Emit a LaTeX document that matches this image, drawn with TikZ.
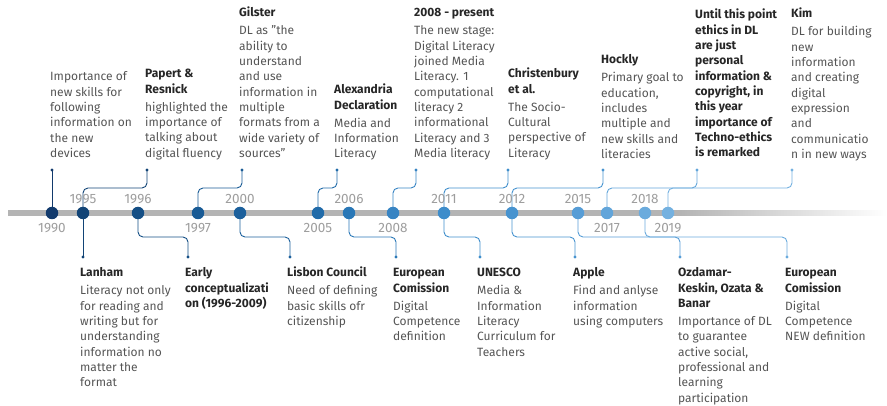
\documentclass[tikz,border=0pt]{standalone}
\usepackage{fontspec}
\setmainfont{Fira Sans}
\definecolor{c1990}{HTML}{123A6C}
\definecolor{c1995}{HTML}{124476}
\definecolor{c1996}{HTML}{154F85}
\definecolor{c1997}{HTML}{195B95}
\definecolor{c2000}{HTML}{1C609C}
\definecolor{c2005}{HTML}{216BA9}
\definecolor{c2006}{HTML}{2A78B7}
\definecolor{c2008}{HTML}{3784C3}
\definecolor{c2011}{HTML}{3E8DCB}
\definecolor{c2012}{HTML}{4793CF}
\definecolor{c2015}{HTML}{579DD6}
\definecolor{c2017}{HTML}{62A5DA}
\definecolor{c2018}{HTML}{6BABDD}
\definecolor{c2019}{HTML}{74B1E0}
\definecolor{bargray}{HTML}{B4B4B4}
\definecolor{yeargray}{HTML}{9E9E9E}
\definecolor{bodygray}{HTML}{555555}
\definecolor{headgray}{HTML}{262626}
\newcommand{\hd}[1]{\textcolor{headgray}{\textbf{#1}}}
\begin{document}
\begin{tikzpicture}[x=1pt,y=-1pt,
  dot/.style={circle,inner sep=0pt,minimum size=12.5pt},
  pinmark/.style={circle,fill,inner sep=0pt,minimum size=3.2pt},
  conn/.style={line width=0.9pt,rounded corners=5pt},
  yr/.style={font=\fontsize{13.5}{13.5}\selectfont,text=yeargray,inner sep=0pt},
  txt/.style={font=\fontsize{12}{15.3}\selectfont,text=bodygray,align=left,anchor=north west,inner sep=0pt},
]
\useasboundingbox (0,0) rectangle (887,406);
% bar
\fill[bargray] (8,210.4) rectangle (680,215.6);
\shade[left color=bargray,right color=white] (680,210.4) rectangle (887,215.6);
\coordinate (up) at (0,188);
\coordinate (dn) at (0,237);
% pins
\node[pinmark,c1990] (pA) at (52,170) {};
\node[pinmark,c1995] (pB) at (147,170) {};
\node[pinmark,c1997] (pC) at (242,170) {};
\node[pinmark,c2005] (pD) at (337,170) {};
\node[pinmark,c2008] (pE) at (416,170) {};
\node[pinmark,c2011] (pF) at (508,170) {};
\node[pinmark,c2012] (pG) at (603,170) {};
\node[pinmark,c2017] (pH) at (697,170) {};
\node[pinmark,c2019] (pI) at (792,170) {};
\node[pinmark,c1995] (qA) at (83,257) {};
\node[pinmark,c1996] (qB) at (188,257) {};
\node[pinmark,c2000] (qC) at (290,257) {};
\node[pinmark,c2006] (qD) at (396,257) {};
\node[pinmark,c2011] (qE) at (480,257) {};
\node[pinmark,c2012] (qF) at (575,257) {};
\node[pinmark,c2015] (qG) at (680,257) {};
\node[pinmark,c2018] (qH) at (787,257) {};
% dot coordinates
\coordinate (x1990) at (52,213);
\coordinate (x1995) at (83,213);
\coordinate (x1996) at (138,213);
\coordinate (x1997) at (198,213);
\coordinate (x2000) at (240,213);
\coordinate (x2005) at (318,213);
\coordinate (x2006) at (349,213);
\coordinate (x2008) at (393,213);
\coordinate (x2011) at (444,213);
\coordinate (x2012) at (512,213);
\coordinate (x2015) at (578,213);
\coordinate (x2017) at (607,213);
\coordinate (x2018) at (645,213);
\coordinate (x2019) at (668,213);
% connectors
\draw[conn,c1990] (x1990) -- (pA.center);
\draw[conn,c1995] (x1995) -- (x1995 |- up) -| (pB.center);
\draw[conn,c1995] (x1995) -- (qA.center);
\draw[conn,c1996] (x1996) -- (x1996 |- dn) -| (qB.center);
\draw[conn,c1997] (x1997) -- (x1997 |- up) -| (pC.center);
\draw[conn,c2000] (x2000) -- (x2000 |- dn) -| (qC.center);
\draw[conn,c2005] (x2005) -- (x2005 |- up) -| (pD.center);
\draw[conn,c2006] (x2006) -- (x2006 |- dn) -| (qD.center);
\draw[conn,c2008] (x2008) -- (x2008 |- up) -| (pE.center);
\draw[conn,c2011] (x2011) -- (x2011 |- dn) -| (qE.center);
\draw[conn,c2011] (x2011) -- (x2011 |- up) -| (pF.center);
\draw[conn,c2012] (x2012) -- (x2012 |- up) -| (pG.center);
\draw[conn,c2012] (x2012) -- (x2012 |- dn) -| (qF.center);
\draw[conn,c2015] (x2015) -- (x2015 |- dn) -| (qG.center);
\draw[conn,c2017] (x2017) -- (x2017 |- up) -| (pH.center);
\draw[conn,c2018] (x2018) -- (x2018 |- dn) -| (qH.center);
\draw[conn,c2019] (x2019) -- (x2019 |- up) -| (pI.center);
% dots
\foreach \y in {1990,1995,1996,1997,2000,2005,2006,2008,2011,2012,2015,2017,2018,2019}
  \node[dot,fill=c\y] (d\y) at (x\y) {};
% year labels
\node[yr] (y1990) at (52,228) {1990};
\node[yr] (y1995) at (83,199) {1995};
\node[yr] (y1996) at (138,199) {1996};
\node[yr] (y1997) at (198,228) {1997};
\node[yr] (y2000) at (240,199) {2000};
\node[yr] (y2005) at (318,228) {2005};
\node[yr] (y2006) at (349,199) {2006};
\node[yr] (y2008) at (393,228) {2008};
\node[yr] (y2011) at (444,199) {2011};
\node[yr] (y2012) at (512,199) {2012};
\node[yr] (y2015) at (578,199) {2015};
\node[yr] (y2017) at (607,228) {2017};
\node[yr] (y2018) at (645,199) {2018};
\node[yr] (y2019) at (668,228) {2019};
% upper texts
\node[txt] (tA) at (50,70) {\strut Importance of\\new skills for\\following\\information on\\the new\\devices};
\node[txt] (tB) at (145,67) {\strut\hd{Papert \&}\\\hd{Resnick}\\[2.7pt]highlighted the\\importance of\\talking about\\digital fluency};
\node[txt] (tC) at (239,6) {\strut\hd{Gilster}\\[2.7pt]DL as "the\\ability to\\understand\\and use\\information in\\multiple\\formats from a\\wide variety of\\sources"};
\node[txt] (tD) at (334,83) {\strut\hd{Alexandria}\\\hd{Declaration}\\[2.7pt]Media and\\Information\\Literacy};
\node[txt] (tE) at (414,6) {\strut\hd{2008 - present}\\[2.7pt]The new stage:\\Digital Literacy\\joined Media\\Literacy. 1\\computational\\literacy 2\\informational\\Literacy and 3\\Media literacy};
\node[txt] (tF) at (508,67) {\strut\hd{Christenbury}\\\hd{et al.}\\[2.7pt]The Socio-\\Cultural\\perspective of\\Literacy};
\node[txt] (tG) at (601,53) {\strut\hd{Hockly}\\[2.7pt]Primary goal to\\education,\\includes\\multiple and\\new skills and\\literacies};
\node[txt] (tH) at (695,8) {\strut\hd{Until this point}\\\hd{ethics in DL}\\\hd{are just}\\\hd{personal}\\\hd{information \&}\\\hd{copyright, in}\\\hd{this year}\\\hd{importance of}\\\hd{Techno-ethics}\\\hd{is remarked}};
\node[txt] (tI) at (791,7) {\strut\hd{Kim}\\[2.7pt]DL for building\\new\\information\\and creating\\digital\\expression\\and\\communicatio\\n in new ways};
% lower texts
\node[txt] (bA) at (80,266) {\strut\hd{Lanham}\\[2.7pt]Literacy not only\\for reading and\\writing but for\\understanding\\information no\\matter the\\format};
\node[txt] (bB) at (185,266) {\strut\hd{Early}\\\hd{conceptualizati}\\\hd{on (1996-2009)}};
\node[txt] (bC) at (287,266) {\strut\hd{Lisbon Council}\\[2.7pt]Need of defining\\basic skills ofr\\citizenship};
\node[txt] (bD) at (393,266) {\strut\hd{European}\\\hd{Comission}\\[2.7pt]Digital\\Competence\\definition};
\node[txt] (bE) at (477,266) {\strut\hd{UNESCO}\\[2.7pt]Media \&\\Information\\Literacy\\Curriculum for\\Teachers};
\node[txt] (bF) at (573,266) {\strut\hd{Apple}\\[2.7pt]Find and anlyse\\information\\using computers};
\node[txt] (bG) at (678,266) {\strut\hd{Ozdamar-}\\\hd{Keskin, Ozata \&}\\\hd{Banar}\\[2.7pt]Importance of DL\\to guarantee\\active social,\\professional and\\learning\\participation};
\node[txt] (bH) at (785,266) {\strut\hd{European}\\\hd{Comission}\\[2.7pt]Digital\\Competence\\NEW definition};
\end{tikzpicture}
\end{document}
